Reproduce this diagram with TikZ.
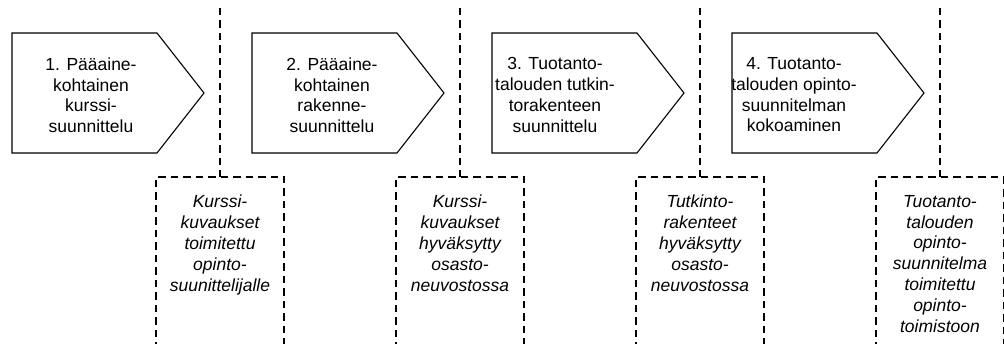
\documentclass[tikz,border=0pt]{standalone}
\usepackage{fontspec}
\setmainfont{Liberation Sans}
\begin{document}
\begin{tikzpicture}[x=1pt,y=-1pt,
  stagebox/.style={draw=black, line width=1.1pt, line join=miter},
  msline/.style={draw=black, line width=1.2pt, dash pattern=on 7.5pt off 5pt},
  stagetext/.style={align=center, inner sep=0pt, anchor=north, font=\fontsize{17.5}{20.7}\selectfont},
  mstext/.style={align=center, inner sep=0pt, anchor=north, font=\itshape\fontsize{17.5}{20.8}\selectfont}]
\useasboundingbox (0,0) rectangle (1004,344);
\foreach \i/\o/\st/\ms in {
  0/91/{1. Pääaine-\\kohtainen\\kurssi-\\suunnittelu}/{Kurssi-\\kuvaukset\\toimitettu\\opinto-\\suunittelijalle},
  1/92/{2. Pääaine-\\kohtainen\\rakenne-\\suunnittelu}/{Kurssi-\\kuvaukset\\hyväksytty\\osasto-\\neuvostossa},
  2/75/{3. Tuotanto-\\talouden tutkin-\\torakenteen\\suunnittelu}/{Tutkinto-\\rakenteet\\hyväksytty\\osasto-\\neuvostossa},
  3/74/{4. Tuotanto-\\talouden opinto-\\suunnitelman\\kokoaminen}/{Tuotanto-\\talouden\\opinto-\\suunnitelma\\toimitettu\\opinto-\\toimistoon}}
{
  \pgfmathsetmacro{\x}{240*\i}
  \pgfmathsetmacro{\rx}{min(\x+284,1003.4)}
  % stage pentagon
  \draw[stagebox] (\x+12,33) -- (\x+157,33) -- (\x+204,93) -- (\x+157,153) -- (\x+12,153) -- cycle;
  \node[stagetext] (s\i) at (\x+\o,57.5) {\st};
  % milestone
  \coordinate (t\i) at (\x+220,8);
  \coordinate (b\i) at (\x+220,177);
  \draw[msline] (t\i) -- (b\i);
  \draw[msline] (\x+156,350) -- (\x+156,177) -- (b\i) -- (\rx,177) -- (\rx,350);
  \node[mstext] (m\i) at (\x+220,195) {\ms};
}
\end{tikzpicture}
\end{document}
